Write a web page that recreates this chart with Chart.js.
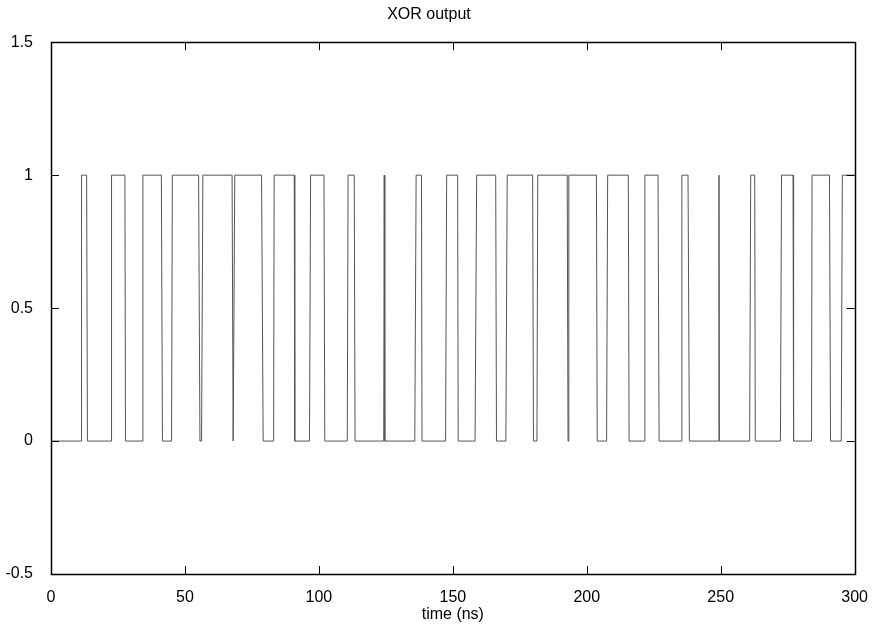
<!DOCTYPE html>
<html>
<head>
<meta charset="utf-8">
<script src="https://cdn.jsdelivr.net/npm/chart.js@4/dist/chart.umd.min.js"></script>
<style>
html,body{margin:0;padding:0;background:#fff;}
#wrap{width:874px;height:628px;}
</style>
</head>
<body>
<div id="wrap"><canvas id="c" width="874" height="628"></canvas></div>
<script>
const timeNs = [0,
 11.2,11.4, 13.3,13.6, 22.4,22.6, 27.6,27.8, 34.1,34.3, 41.2,41.6,
 45.0,45.3, 55.1,55.6,56.2,56.7, 67.6,68.0,68.6, 78.6,79.2, 83.1,83.3,
 90.8,91.0, 96.5,96.9, 101.9,102.2, 110.6,110.9, 113.2,113.5,
 124.2,124.4,124.6, 135.8,136.3, 138.3,138.5, 147.3,147.7, 151.8,152.0,
 158.3,158.9, 166.0,166.3, 169.8,170.3, 179.8,180.1, 181.4,181.7,
 192.7,193.0,193.3, 203.6,203.9, 207.4,207.8, 215.5,215.8, 221.4,221.7,
 226.6,227.0, 235.3,235.5, 237.8,238.3, 249.2,249.35,249.5,
 260.8,261.2, 262.7,262.9, 272.3,272.7, 277.0,277.2, 283.9,284.1,
 290.6,291.0, 295.0,295.4, 300];
const xorOut = [0,
 0,1, 1,0, 0,1, 1,0, 0,1, 1,0,
 0,1, 1,0,0,1, 1,0,1, 1,0, 0,1,
 1,0, 0,1, 1,0, 0,1, 1,0,
 0,1,0, 0,1, 1,0, 0,1, 1,0,
 0,1, 1,0, 0,1, 1,0, 0,1,
 1,0,1, 1,0, 0,1, 1,0, 0,1,
 1,0, 0,1, 1,0, 0,1,0,
 0,1, 1,0, 0,1, 1,0, 0,1,
 1,0, 0,1, 1];
const xTicks = [0,50,100,150,200,250,300];
const yTicks = [-0.5,0,0.5,1,1.5];
const chartTitle = 'XOR output';
const xTitle = 'time (ns)';

const points = timeNs.map((t,i)=>({x:t,y:xorOut[i]}));
const FONT = 'Liberation Sans, Arial, sans-serif';

const frame = {
  id:'frame',
  afterDraw(chart){
    const {ctx, chartArea:a, scales:{x,y}} = chart;
    ctx.save();
    ctx.strokeStyle = '#000';
    ctx.lineWidth = 1;
    const L = 8;
    ctx.beginPath();
    xTicks.forEach(v=>{
      const px = Math.round(x.getPixelForValue(v))+0.5;
      ctx.moveTo(px,a.bottom); ctx.lineTo(px,a.bottom-L);
      ctx.moveTo(px,a.top); ctx.lineTo(px,a.top+L);
    });
    yTicks.forEach(v=>{
      const py = Math.round(y.getPixelForValue(v))+0.5;
      ctx.moveTo(a.left,py); ctx.lineTo(a.left+L,py);
      ctx.moveTo(a.right,py); ctx.lineTo(a.right-L,py);
    });
    ctx.stroke();
    ctx.lineWidth = 1.5;
    ctx.strokeRect(Math.round(a.left)+0.5, Math.round(a.top)+0.5, Math.round(a.right-a.left), Math.round(a.bottom-a.top));
    ctx.restore();
  }
};

new Chart(document.getElementById('c'), {
  type:'line',
  data:{datasets:[{data:points, borderColor:'#555', borderWidth:1, pointRadius:0, tension:0, fill:false}]},
  options:{
    responsive:false, animation:false,
    layout:{padding:{left:0,right:16,top:0,bottom:0}},
    plugins:{
      legend:{display:false}, tooltip:{enabled:false},
      title:{display:true, text:chartTitle, color:'#000',
        font:{family:FONT, size:16, weight:'normal'},
        padding:{top:5,bottom:18}}
    },
    scales:{
      x:{type:'linear', min:0, max:300,
        afterBuildTicks(s){ s.ticks = xTicks.map(v=>({value:v})); },
        grid:{display:false}, border:{display:false},
        ticks:{color:'#000', padding:6, maxRotation:0,
          callback:(v)=>String(v),
          font:{family:FONT, size:16}},
        title:{display:true, text:xTitle, color:'#000', padding:{top:2,bottom:4},
          font:{family:FONT, size:16}},
        afterFit(s){ s.height = 54; }
      },
      y:{type:'linear', min:-0.5, max:1.5,
        afterBuildTicks(s){ s.ticks = yTicks.map(v=>({value:v})); },
        grid:{display:false}, border:{display:false},
        ticks:{color:'#000', padding:10,
          callback:(v)=>String(v),
          font:{family:FONT, size:16}},
        afterFit(s){ s.width = 51; }
      }
    }
  },
  plugins:[frame]
});
</script>
</body>
</html>
